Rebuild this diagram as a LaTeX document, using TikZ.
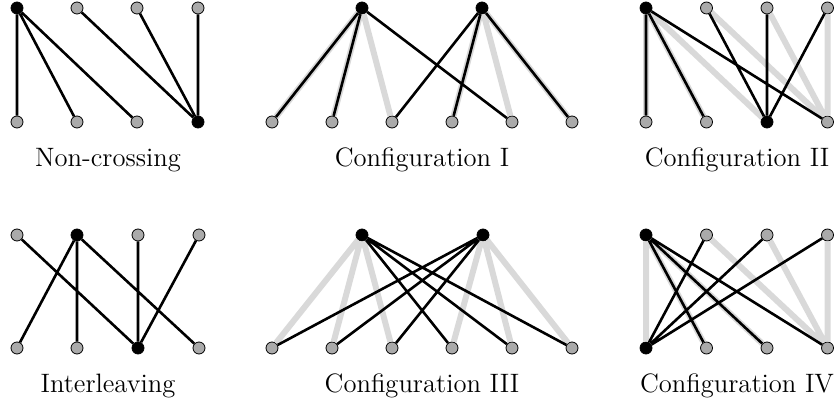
\documentclass[tikz,border=0pt]{standalone}
\definecolor{lgray}{HTML}{D9D9D9}
\definecolor{ngray}{HTML}{AAAAAA}
\begin{document}
\begin{tikzpicture}[x=0.5pt,y=-0.5pt,
  vtx/.style={circle,draw=black,line width=0.4pt,fill=ngray,minimum size=6pt,inner sep=0pt},
  bvtx/.style={vtx,fill=black},
  edge/.style={line width=1.3pt,black},
  shade/.style={line width=3pt,lgray},
  lab/.style={anchor=base,font=\fontsize{13.3}{16}\selectfont}]
\useasboundingbox (0,0) rectangle (835,405);

% ---------- Panel 1: Non-crossing ----------
\node[bvtx] (a1) at (17,8) {};
\node[vtx] (a2) at (77,8) {};
\node[vtx] (a3) at (137,8) {};
\node[vtx] (a4) at (198,8) {};
\node[vtx] (b1) at (17,122) {};
\node[vtx] (b2) at (77,122) {};
\node[vtx] (b3) at (137,122) {};
\node[bvtx] (b4) at (198,122) {};
\draw[edge] (a1)--(b1) (a1)--(b2) (a1)--(b3) (a2)--(b4) (a3)--(b4) (a4)--(b4);
\node[lab] (l1) at (108,166.5) {Non-crossing};

% ---------- Panel 2: Configuration I ----------
\node[bvtx] (c1) at (362,8) {};
\node[bvtx] (c2) at (482,8) {};
\node[vtx] (d1) at (272,122) {};
\node[vtx] (d2) at (332,122) {};
\node[vtx] (d3) at (392,122) {};
\node[vtx] (d4) at (452,122) {};
\node[vtx] (d5) at (512,122) {};
\node[vtx] (d6) at (572,122) {};
\draw[shade] (c1)--(d1) (c1)--(d2) (c1)--(d3) (c2)--(d4) (c2)--(d5) (c2)--(d6);
\draw[edge] (c1)--(d1) (c1)--(d2) (c1)--(d5) (c2)--(d3) (c2)--(d4) (c2)--(d6);
\node[lab] (l2) at (422,166.5) {Configuration I};

% ---------- Panel 3: Configuration II ----------
\node[bvtx] (e1) at (646,8) {};
\node[vtx] (e2) at (706.5,8) {};
\node[vtx] (e3) at (767,8) {};
\node[vtx] (e4) at (827.5,8) {};
\node[vtx] (f1) at (646,122) {};
\node[vtx] (f2) at (706.5,122) {};
\node[bvtx] (f3) at (767,122) {};
\node[vtx] (f4) at (827.5,122) {};
\draw[shade] (e1)--(f1) (e1)--(f2) (e1)--(f3) (e2)--(f4) (e3)--(f4) (e4)--(f4);
\draw[edge] (e1)--(f1) (e1)--(f2) (e1)--(f4) (e2)--(f3) (e3)--(f3) (e4)--(f3);
\node[lab] (l3) at (737,166.5) {Configuration II};

% ---------- Panel 4: Interleaving ----------
\node[vtx] (g1) at (17,235) {};
\node[bvtx] (g2) at (77,235) {};
\node[vtx] (g3) at (138,235) {};
\node[vtx] (g4) at (199,235) {};
\node[vtx] (h1) at (17,348) {};
\node[vtx] (h2) at (77,348) {};
\node[bvtx] (h3) at (138,348) {};
\node[vtx] (h4) at (199,348) {};
\draw[edge] (g1)--(h3) (g2)--(h1) (g2)--(h2) (g2)--(h4) (g3)--(h3) (g4)--(h3);
\node[lab] (l4) at (108,392.5) {Interleaving};

% ---------- Panel 5: Configuration III ----------
\node[bvtx] (i1) at (362,235) {};
\node[bvtx] (i2) at (483,235) {};
\node[vtx] (j1) at (272,348) {};
\node[vtx] (j2) at (332,348) {};
\node[vtx] (j3) at (392,348) {};
\node[vtx] (j4) at (452,348) {};
\node[vtx] (j5) at (512,348) {};
\node[vtx] (j6) at (572,348) {};
\draw[shade] (i1)--(j1) (i1)--(j2) (i1)--(j3) (i2)--(j4) (i2)--(j5) (i2)--(j6);
\draw[edge] (i1)--(j4) (i1)--(j5) (i1)--(j6) (i2)--(j1) (i2)--(j2) (i2)--(j3);
\node[lab] (l5) at (422,392.5) {Configuration III};

% ---------- Panel 6: Configuration IV ----------
\node[bvtx] (k1) at (646,235) {};
\node[vtx] (k2) at (706.5,235) {};
\node[vtx] (k3) at (767,235) {};
\node[vtx] (k4) at (827.5,235) {};
\node[bvtx] (m1) at (646,348) {};
\node[vtx] (m2) at (706.5,348) {};
\node[vtx] (m3) at (767,348) {};
\node[vtx] (m4) at (827.5,348) {};
\draw[shade] (k1)--(m1) (k1)--(m2) (k1)--(m3) (k2)--(m4) (k3)--(m4) (k4)--(m4);
\draw[edge] (k1)--(m2) (k1)--(m3) (k1)--(m4) (m1)--(k2) (m1)--(k3) (m1)--(k4);
\node[lab] (l6) at (737,392.5) {Configuration IV};
\end{tikzpicture}
\end{document}
